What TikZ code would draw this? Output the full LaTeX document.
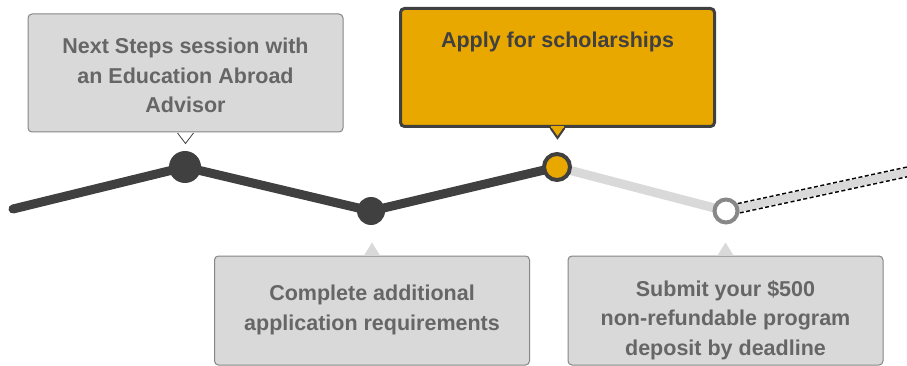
\documentclass[tikz,border=0pt]{standalone}
\usepackage{fontspec}
\setmainfont{Liberation Sans}
\usetikzlibrary{calc}
\definecolor{darkg}{HTML}{404040}
\definecolor{lightg}{HTML}{D9D9D9}
\definecolor{boxfill}{HTML}{D9D9D9}
\definecolor{boxedge}{HTML}{858585}
\definecolor{txtg}{HTML}{666666}
\definecolor{gold}{HTML}{E9A800}
\definecolor{ringg}{HTML}{888888}
\tikzset{
  infobox/.style={rectangle, rounded corners=4pt, fill=boxfill, draw=boxedge, line width=1pt,
    minimum width=315pt, minimum height=#1, inner sep=0pt},
  goldbox/.style={rectangle, rounded corners=4pt, fill=gold, draw=darkg, line width=3pt,
    minimum width=314pt, minimum height=118pt, inner sep=0pt},
  btext/.style={font=\fontsize{21.5}{29.5}\selectfont\bfseries, text=txtg, align=center},
  track/.style={line width=9pt, line cap=round, line join=round},
  dotfull/.style={circle, fill=darkg, inner sep=0pt, minimum size=#1},
}
\begin{document}
\begin{tikzpicture}[x=1pt,y=-1pt]
\useasboundingbox (0,0) rectangle (907,366);
\clip (0,0) rectangle (907,366);
% track coordinates
\coordinate (start) at (13,209);
\coordinate (p1) at (185,167);
\coordinate (p2) at (371,211);
\coordinate (p3) at (557,167);
\coordinate (p4) at (726,211);
\coordinate (far) at (960,160.5);
% track
\draw[track, darkg] (start) -- (p1) -- (p2) -- (p3);
\draw[track, lightg, line cap=butt] (p3) -- (p4);
\draw[line width=11pt, black, dash pattern=on 4pt off 2.5pt] (p4) -- (far);
\draw[line width=8pt, lightg] (p4) -- (far);
% milestones
\node[dotfull=32pt] (n1) at (p1) {};
\node[dotfull=28pt] (n2) at (p2) {};
\node[circle, fill=gold, draw=darkg, line width=4pt, inner sep=0pt, minimum size=26pt] (n3) at (p3) {};
\node[circle, fill=white, draw=ringg, line width=4pt, inner sep=0pt, minimum size=23pt] (n4) at (p4) {};
% box 1
\node[infobox=118pt] (b1) at (185.5,73) {};
\node[btext] (t1) at (185.5,75.5) {Next Steps session with\\an Education Abroad\\Advisor};
\filldraw[fill=white, draw=darkg, line width=0.8pt] ($(b1.south)+(-8,0.5)$) -- ($(b1.south)+(0,11)$) -- ($(b1.south)+(8,0.5)$);
% box 3 (gold)
\node[goldbox] (b3) at (557.5,67.5) {};
\node[btext, text=darkg] (t3) at (557.5,41.5) {Apply for scholarships};
\filldraw[fill=gold, draw=darkg, line width=2pt, line join=miter] ($(b3.south)+(-7,0)$) -- ($(b3.south)+(0,10)$) -- ($(b3.south)+(7,0)$);
\fill[gold] ($(b3.south)+(-6.5,-2)$) rectangle ($(b3.south)+(6.5,0.5)$);
% box 2
\node[infobox=109pt] (b2) at (372,310.5) {};
\node[btext] (t2) at (372,310) {Complete additional\\application requirements};
\fill[lightg] ($(b2.north)+(-8,0)$) -- ($(b2.north)+(0,-13)$) -- ($(b2.north)+(8,0)$) -- cycle;
% box 4
\node[infobox=109pt] (b4) at (725.5,310.5) {};
\node[btext] (t4) at (725.5,320) {Submit your \$500\\non-refundable program\\deposit by deadline};
\fill[lightg] ($(b4.north)+(-8,0)$) -- ($(b4.north)+(0,-13)$) -- ($(b4.north)+(8,0)$) -- cycle;
\end{tikzpicture}
\end{document}
